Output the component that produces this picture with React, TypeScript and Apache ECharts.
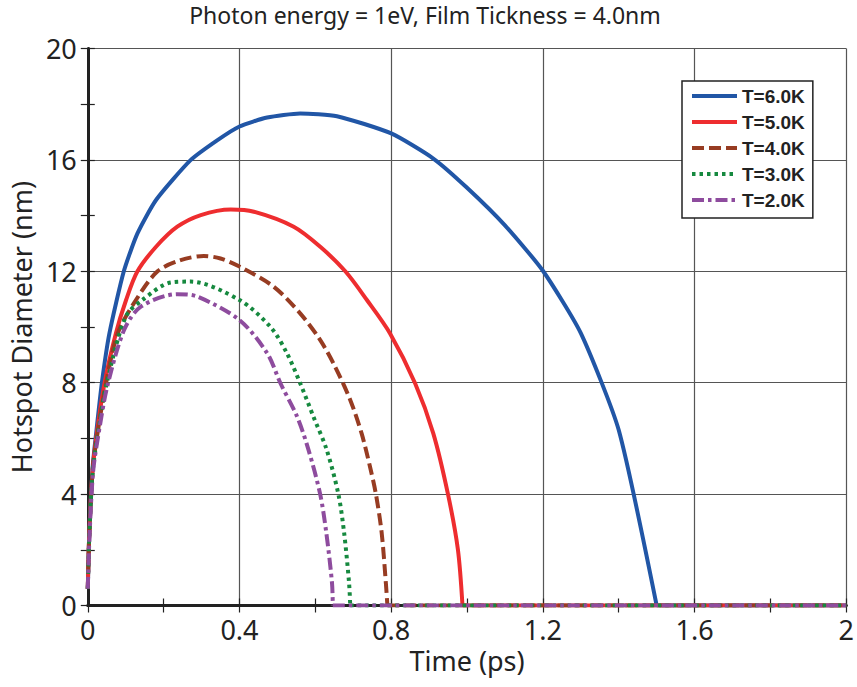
import React, { useEffect, useRef } from "react";
import * as echarts from "echarts";

const seriesNames = ["T=6.0K", "T=5.0K", "T=4.0K", "T=3.0K", "T=2.0K"];

const t6x = [0, 0.004, 0.013, 0.022, 0.037, 0.057, 0.095, 0.131, 0.18, 0.271, 0.342, 0.4, 0.473, 0.56, 0.657, 0.8, 0.911, 1.0, 1.1, 1.2, 1.3, 1.4, 1.5, 2.0];
const t6y = [0.6, 2.6, 5.0, 6.18, 7.98, 9.77, 12.0, 13.36, 14.56, 15.99, 16.71, 17.2, 17.52, 17.67, 17.57, 16.95, 16.05, 15.0, 13.65, 12.02, 9.78, 6.3, 0, 0];

const t5x = [0, 0.004, 0.013, 0.025, 0.044, 0.074, 0.101, 0.131, 0.18, 0.236, 0.298, 0.377, 0.438, 0.543, 0.613, 0.679, 0.736, 0.797, 0.863, 0.911, 0.95, 0.976, 0.988, 2.0];
const t5y = [0.6, 2.6, 4.9, 6.3, 7.98, 9.77, 10.97, 12.0, 12.88, 13.6, 14.02, 14.22, 14.14, 13.6, 12.88, 12.0, 10.97, 9.77, 7.98, 6.18, 3.98, 2.0, 0, 0];

const t4x = [0, 0.004, 0.013, 0.027, 0.048, 0.079, 0.127, 0.184, 0.245, 0.306, 0.35, 0.4, 0.49, 0.56, 0.613, 0.652, 0.692, 0.722, 0.744, 0.76, 0.775, 0.786, 0.79, 2.0];
const t4y = [0.6, 2.6, 4.9, 6.3, 7.98, 9.77, 10.97, 12.0, 12.4, 12.55, 12.46, 12.17, 11.45, 10.49, 9.53, 8.58, 7.38, 6.18, 4.99, 3.98, 2.6, 0.8, 0, 0];

const t3x = [0, 0.004, 0.013, 0.028, 0.05, 0.1, 0.144, 0.219, 0.271, 0.4, 0.482, 0.525, 0.56, 0.595, 0.63, 0.661, 0.676, 0.689, 0.692, 2.0];
const t3y = [0.6, 2.5, 4.8, 6.3, 7.98, 10.37, 10.97, 11.6, 11.63, 10.97, 10.0, 9.06, 7.98, 6.78, 5.59, 3.98, 2.6, 0.8, 0, 0];

const t2x = [0, 0.004, 0.014, 0.03, 0.052, 0.096, 0.14, 0.236, 0.289, 0.4, 0.473, 0.508, 0.552, 0.582, 0.613, 0.629, 0.644, 0.646, 2.0];
const t2y = [0.6, 2.3, 4.8, 6.3, 7.9, 9.9, 10.73, 11.18, 11.09, 10.25, 9.06, 7.98, 6.78, 5.59, 3.98, 2.6, 0.8, 0, 0];

const xTicks = { min: 0, max: 2, interval: 0.4 };
const yTicks = { min: 0, max: 20, interval: 4 };

const colors = ["#2156a6", "#ee2d2f", "#973c22", "#16893f", "#8e4c9e"];
const dashes: any[] = ["solid", "solid", [12, 5], [3.5, 4], [12, 4, 3.5, 4]];
const smoothness = [0.2, 0.3, 0.3, 0.3, 0.3];

const zip = (xs: number[], ys: number[]) => xs.map((x, i) => [x, ys[i]]);
const allData = [zip(t6x, t6y), zip(t5x, t5y), zip(t4x, t4y), zip(t3x, t3y), zip(t2x, t2y)];

export default function App() {
  const ref = useRef<HTMLDivElement>(null);
  useEffect(() => {
    if (!ref.current) return;
    const chart = echarts.init(ref.current, undefined, { renderer: "svg" });
    const axisColor = "#222";
    const font = "'Noto Sans', sans-serif";
    const tickCommon = {
      axisTick: { show: true, inside: true, length: 7, lineStyle: { color: axisColor, width: 1.2 } },
      minorTick: { show: true, splitNumber: 2, length: 7, lineStyle: { color: axisColor, width: 1.2 } },
    };
    const arcSeries = allData.map((d, i) => ({
      name: seriesNames[i],
      type: "line",
      data: d.slice(0, d.length - 1),
      showSymbol: false,
      symbol: "none",
      smooth: smoothness[i],
      color: colors[i],
      lineStyle: { color: colors[i], width: 4, type: dashes[i] },
      z: 2 + i,
    }));
    const tailSeries = allData.map((d, i) => ({
      name: seriesNames[i],
      type: "line",
      data: d.slice(d.length - 2),
      showSymbol: false,
      symbol: "none",
      smooth: false,
      color: colors[i],
      lineStyle: { color: colors[i], width: 4, type: dashes[i] },
      z: 2 + i,
    }));
    chart.setOption({
      animation: false,
      backgroundColor: "#fff",
      title: {
        text: "Photon energy = 1eV, Film Tickness = 4.0nm",
        left: 425,
        top: 3,
        padding: 0,
        textAlign: "center",
        textStyle: { fontFamily: font, fontSize: 23, fontWeight: "normal", color: "#222" },
      },
      legend: {
        data: seriesNames,
        orient: "vertical",
        left: 682,
        top: 81,
        padding: [5, 8, 8, 8],
        itemWidth: 45,
        itemHeight: 14,
        itemGap: 6,
        backgroundColor: "#fff",
        borderColor: "#222",
        borderWidth: 1.5,
        borderRadius: 0,
        itemStyle: { opacity: 0 },
        lineStyle: { width: 4 },
        textStyle: { fontFamily: "'Liberation Sans', Arial, sans-serif", fontWeight: "bold", fontSize: 19, lineHeight: 20, color: "#222" },
      },
      grid: { left: 86.5, right: 9, top: 48.5, bottom: 81.5, containLabel: false },
      xAxis: [
        {
          type: "value",
          ...xTicks,
          position: "bottom",
          name: "Time (ps)",
          nameLocation: "middle",
          nameGap: 40,
          nameTextStyle: { fontFamily: font, fontSize: 27, color: "#222" },
          axisLine: { show: true, lineStyle: { color: axisColor, width: 3 } },
          ...tickCommon,
          splitLine: { show: true, lineStyle: { color: "#555", width: 1.2 } },
          axisLabel: { fontFamily: font, fontSize: 27, color: "#222", margin: 10 },
        },
        {
          type: "value",
          ...xTicks,
          position: "top",
          axisLine: { show: true, lineStyle: { color: axisColor, width: 2.5 } },
          ...tickCommon,
          splitLine: { show: false },
          axisLabel: { show: false },
        },
      ],
      yAxis: [
        {
          type: "value",
          ...yTicks,
          position: "left",
          name: "Hotspot Diameter (nm)",
          nameLocation: "middle",
          nameGap: 47,
          nameTextStyle: { fontFamily: font, fontSize: 27, color: "#222" },
          axisLine: { show: true, lineStyle: { color: axisColor, width: 3 } },
          ...tickCommon,
          splitLine: { show: true, lineStyle: { color: "#555", width: 1.2 } },
          axisLabel: { fontFamily: font, fontSize: 27, color: "#222", margin: 11, padding: [0, 0, 8, 0] },
        },
        {
          type: "value",
          ...yTicks,
          position: "right",
          axisLine: { show: true, lineStyle: { color: axisColor, width: 2.5 } },
          ...tickCommon,
          splitLine: { show: false },
          axisLabel: { show: false },
        },
      ],
      series: [...arcSeries, ...tailSeries],
    });
    return () => chart.dispose();
  }, []);
  return <div ref={ref} style={{ position: "absolute", left: 0, top: 0, width: 857, height: 687 }} />;
}
